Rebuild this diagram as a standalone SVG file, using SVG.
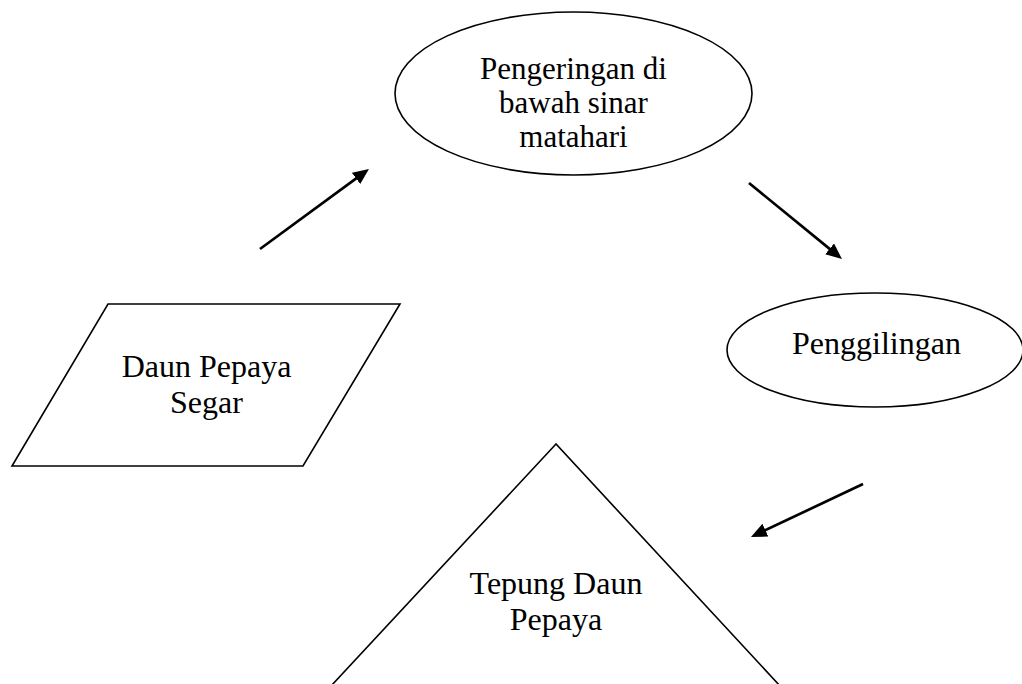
<svg xmlns="http://www.w3.org/2000/svg" width="1022" height="684" viewBox="0 0 1022 684">
<style>
.shape{fill:#fff;stroke:#000;stroke-width:1.6}
.lbl{font-family:"Liberation Serif","Times New Roman",serif;font-size:32px;fill:#000;text-anchor:middle}
.sm{font-size:31px}
.conn{stroke:#000;stroke-width:2.7;fill:none;marker-end:url(#ah)}
</style>
<defs>
<marker id="ah" markerUnits="userSpaceOnUse" markerWidth="18" markerHeight="16" refX="4" refY="7" orient="auto" viewBox="0 0 18 16">
<path d="M0,0 L16,7 L0,14 z" fill="#000"/>
</marker>
</defs>
<rect width="1022" height="684" fill="#fff"/>
<g id="node-dryer">
<ellipse class="shape" cx="573.5" cy="93.5" rx="178.5" ry="81.5"/>
<text class="lbl sm" x="573.5" y="79">Pengeringan di</text>
<text class="lbl sm" x="573.5" y="113">bawah sinar</text>
<text class="lbl sm" x="573.5" y="147">matahari</text>
</g>
<g id="node-grinding">
<ellipse class="shape" cx="875" cy="350" rx="148" ry="57"/>
<text class="lbl" x="876.5" y="354">Penggilingan</text>
</g>
<g id="node-input">
<polygon class="shape" points="108,304 400,304 303,466 12,466"/>
<text class="lbl" x="206.5" y="377">Daun Pepaya</text>
<text class="lbl" x="206.5" y="413">Segar</text>
</g>
<g id="node-output">
<polygon class="shape" points="556,444 318,700 793,700"/>
<text class="lbl" x="556" y="594">Tepung Daun</text>
<text class="lbl" x="556" y="630">Pepaya</text>
</g>
<g id="connectors">
<line class="conn" x1="260" y1="249" x2="359.3" y2="176.1"/>
<line class="conn" x1="749" y1="183" x2="832.7" y2="251.4"/>
<line class="conn" x1="863" y1="484" x2="761.8" y2="531.9"/>
</g>
</svg>
